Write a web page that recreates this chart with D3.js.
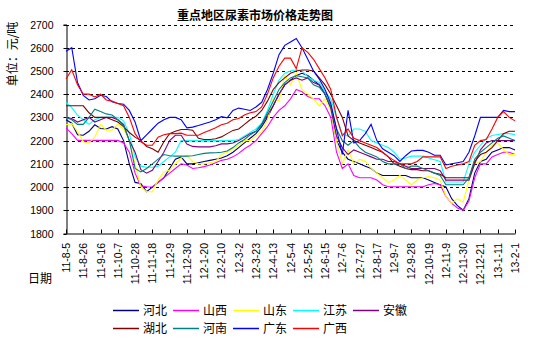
<!DOCTYPE html>
<html>
<head>
<meta charset="utf-8">
<script src="https://cdn.jsdelivr.net/npm/d3@7"></script>
<style>
  body { margin: 0; background: #fff; }
  text { font-family: "Liberation Sans", Arial, "Noto Sans CJK SC", sans-serif; }
  .cjk { font-family: "Noto Sans CJK SC", "Liberation Sans", sans-serif; }
</style>
</head>
<body>
<svg id="chart" width="545" height="340"></svg>
<script>
// Weekly urea prices (yuan/ton), 2011-08-05 .. 2013-02-01
const startDate = new Date(2011, 7, 5);
const fmt = d3.timeFormat("%y-%-m-%-d");
const categories = d3.range(79).map(i => fmt(d3.timeDay.offset(startDate, 7 * i)));

const tickLabels = ["11-8-5","11-8-26","11-9-16","11-10-7","11-10-28","11-11-18","11-12-9",
  "11-12-30","12-1-20","12-2-10","12-3-2","12-3-23","12-4-13","12-5-4","12-5-25","12-6-15",
  "12-7-6","12-7-27","12-8-17","12-9-7","12-9-28","12-10-19","12-11-9","12-11-30",
  "12-12-21","13-1-11","13-2-1"];
const yTicks = [1800,1900,2000,2100,2200,2300,2400,2500,2600,2700];

const seriesNames = ["河北","山西","山东","江苏","安徽","湖北","河南","广东","广西"];

const hebei = [2290,2275,2225,2223,2240,2268,2252,2250,2260,2250,2200,2100,2020,2015,1980,2000,2020,2040,2080,2120,2130,2100,2100,2105,2110,2115,2120,2125,
  2135,2150,2170,2190,2210,2230,2260,2300,2350,2400,2440,2460,2480,2490,2480,2460,2440,2400,2340,2200,2150,2120,2110,2100,2090,2080,2060,2050,2050,2050,
  2050,2050,2040,2040,2040,2030,2020,2010,2000,1950,1920,1900,1950,2060,2110,2120,2150,2160,2170,2170,2160];
const shanxi = [2255,2230,2201,2201,2201,2201,2201,2201,2201,2201,2190,2150,2060,2005,2001,2000,2020,2040,2060,2080,2100,2095,2080,2083,2088,2095,2105,2115,
  2120,2130,2145,2165,2180,2200,2230,2260,2300,2330,2350,2380,2420,2410,2390,2380,2380,2350,2300,2150,2080,2100,2050,2040,2040,2040,2030,2010,2001,2001,
  2001,2001,2001,2001,2001,2010,2015,2010,1960,1930,1910,1900,1940,2040,2100,2100,2130,2140,2150,2150,2140];
const shandong = [2268,2273,2240,2195,2190,2215,2270,2245,2245,2270,2250,2200,2100,2000,1980,1980,2030,2065,2072,2100,2125,2135,2110,2100,2100,2105,2110,2140,
  2150,2165,2180,2200,2200,2220,2240,2290,2380,2370,2480,2440,2490,2420,2400,2380,2350,2380,2330,2200,2100,2160,2100,2120,2110,2080,2060,2040,2020,2030,
  2050,2030,2010,2030,2040,2045,2040,2030,1960,1930,1950,1935,2030,2100,2110,2150,2180,2190,2160,2140,2140];
const jiangsu = [2365,2342,2310,2290,2270,2290,2300,2300,2300,2300,2285,2230,2130,2090,2085,2085,2090,2110,2130,2150,2200,2200,2200,2200,2200,2200,2200,2200,
  2200,2200,2205,2220,2235,2250,2275,2330,2400,2460,2490,2500,2505,2500,2475,2460,2450,2410,2380,2300,2230,2220,2250,2250,2240,2200,2190,2180,2170,2150,
  2120,2125,2133,2133,2133,2125,2118,2110,2022,2022,2022,2022,2100,2150,2180,2209,2222,2226,2230,2230,2225];
const anhui = [2300,2295,2280,2290,2300,2280,2290,2300,2300,2290,2270,2200,2150,2075,2060,2072,2110,2150,2200,2223,2223,2185,2175,2173,2173,2173,2178,2186,
  2186,2190,2200,2215,2230,2240,2270,2310,2350,2400,2440,2460,2470,2460,2470,2450,2440,2400,2340,2220,2170,2140,2160,2150,2140,2130,2120,2120,2110,2110,
  2100,2090,2080,2080,2080,2080,2080,2070,2030,2030,2030,2030,2030,2100,2160,2190,2200,2200,2200,2200,2200];
const hubei = [2350,2350,2350,2350,2320,2300,2300,2300,2290,2280,2260,2235,2215,2200,2175,2165,2150,2195,2230,2240,2248,2248,2245,2210,2205,2205,2208,2216,
  2230,2244,2250,2270,2290,2305,2330,2370,2420,2450,2470,2490,2500,2504,2504,2500,2470,2440,2400,2350,2300,2220,2200,2190,2180,2170,2160,2150,2130,2100,
  2090,2080,2075,2075,2070,2070,2060,2055,2040,2040,2040,2040,2040,2110,2140,2150,2170,2200,2230,2240,2240];
const henan = [2300,2290,2270,2270,2300,2335,2325,2315,2310,2290,2265,2200,2080,2065,2080,2100,2120,2140,2135,2133,2133,2133,2135,2140,2145,2147,2148,2150,
  2155,2170,2190,2205,2225,2240,2270,2320,2370,2420,2450,2470,2480,2475,2470,2440,2430,2400,2350,2250,2200,2180,2200,2170,2150,2140,2130,2110,2100,2100,
  2100,2080,2090,2090,2080,2070,2060,2050,2010,2010,2010,2010,2040,2120,2150,2170,2190,2210,2220,2210,2200];
const guangdong = [2585,2600,2450,2395,2375,2380,2395,2390,2367,2360,2357,2330,2280,2200,2225,2250,2275,2290,2300,2300,2290,2255,2258,2265,2273,2280,2290,2303,
  2298,2330,2340,2335,2330,2345,2365,2420,2490,2570,2610,2625,2640,2600,2550,2500,2465,2420,2360,2250,2140,2330,2190,2200,2230,2270,2200,2165,2150,2135,
  2110,2135,2155,2158,2158,2150,2137,2137,2095,2100,2105,2110,2150,2220,2300,2300,2300,2300,2330,2325,2325];
const guangxi = [2465,2505,2440,2400,2400,2388,2400,2375,2370,2360,2350,2300,2230,2195,2180,2180,2215,2225,2230,2230,2232,2223,2223,2223,2235,2245,2255,2268,
  2275,2290,2295,2310,2320,2325,2345,2400,2470,2520,2555,2555,2510,2600,2580,2550,2510,2470,2420,2300,2220,2250,2210,2200,2190,2180,2170,2150,2130,2115,
  2100,2100,2100,2110,2130,2130,2130,2130,2080,2090,2095,2100,2110,2180,2200,2205,2250,2300,2325,2300,2285];

const seriesValues = [hebei, shanxi, shandong, jiangsu, anhui, hubei, henan, guangdong, guangxi];
const seriesColors = ["#000080","#FF00FF","#FFFF00","#00FFFF","#800080","#800000","#008080","#0000FF","#FF0000"];

const svg = d3.select("#chart");
const plotLeft = 66, plotRight = 515, plotTop = 24.5, plotBottom = 233.5;

const x = d3.scalePoint().domain(categories).range([plotLeft, plotRight]);
const y = d3.scaleLinear().domain([1800, 2700]).range([plotBottom, plotTop]);

// title
svg.append("text").attr("class", "cjk")
  .attr("x", 255).attr("y", 20).attr("text-anchor", "middle")
  .attr("font-size", 12).attr("font-weight", "bold").text("重点地区尿素市场价格走势图");

// horizontal dashed grid
svg.append("g").selectAll("line").data(yTicks.filter(v => v > 1800)).join("line")
  .attr("x1", plotLeft).attr("x2", plotRight - 2)
  .attr("y1", d => Math.round(y(d)) + 0.5).attr("y2", d => Math.round(y(d)) + 0.5)
  .attr("stroke", "#000").attr("stroke-width", 1).attr("stroke-dasharray", "3,3");

// y axis
const yAxis = d3.axisLeft(y).tickValues(yTicks).tickSize(3).tickPadding(10).tickFormat(d3.format("d"));
const gy = svg.append("g").attr("transform", `translate(${plotLeft + 0.5},0)`).call(yAxis);
gy.select(".domain").attr("stroke", "#000");
gy.selectAll(".tick line").attr("stroke", "#000");
gy.selectAll(".tick text").attr("font-size", 10.5).attr("fill", "#000")
  .attr("font-family", "'Liberation Sans', Arial, sans-serif");
gy.selectAll(".tick").attr("transform", d => `translate(0,${Math.round(y(d)) + 0.5})`);

// x axis
const xAxis = d3.axisBottom(x).tickValues(tickLabels).tickSizeInner(-4).tickSizeOuter(0).tickPadding(10);
const gx = svg.append("g").attr("transform", `translate(0,${plotBottom})`).call(xAxis);
gx.select(".domain").attr("stroke", "#000");
gx.selectAll(".tick line").attr("stroke", "#000");
gx.selectAll(".tick").attr("transform", d => `translate(${Math.round(x(d)) + 0.5},0)`);
gx.selectAll(".tick text")
  .attr("font-size", 10.5).attr("fill", "#000")
  .attr("font-family", "'Liberation Sans', Arial, sans-serif")
  .attr("text-anchor", "end")
  .attr("transform", "rotate(-90)")
  .attr("x", -9.5).attr("y", 0).attr("dy", "0.35em");

// axis titles
svg.append("text").attr("class", "cjk")
  .attr("transform", "translate(17,54) rotate(-90)")
  .attr("text-anchor", "middle").attr("font-size", 12).text("单位：元/吨");
svg.append("text").attr("class", "cjk")
  .attr("x", 28).attr("y", 283).attr("font-size", 12).text("日期");

// series lines
const line = d3.line().x((d, i) => x(categories[i])).y(d => y(d));
svg.append("g").selectAll("path").data(seriesValues).join("path")
  .attr("d", line)
  .attr("fill", "none")
  .attr("stroke", (d, i) => seriesColors[i])
  .attr("stroke-width", 1.1);

// legend: two rows
const leg = svg.append("g").selectAll("g").data(seriesNames).join("g")
  .attr("transform", (d, i) => `translate(${113 + (i % 5) * 60},${i < 5 ? 310 : 328})`);
leg.append("line").attr("x1", 0).attr("x2", 26).attr("y1", 0.5).attr("y2", 0.5)
  .attr("stroke", (d, i) => seriesColors[i]).attr("stroke-width", 1.5);
leg.append("text").attr("class", "cjk").attr("x", 30).attr("y", 5)
  .attr("font-size", 12).text(d => d);
</script>
</body>
</html>
